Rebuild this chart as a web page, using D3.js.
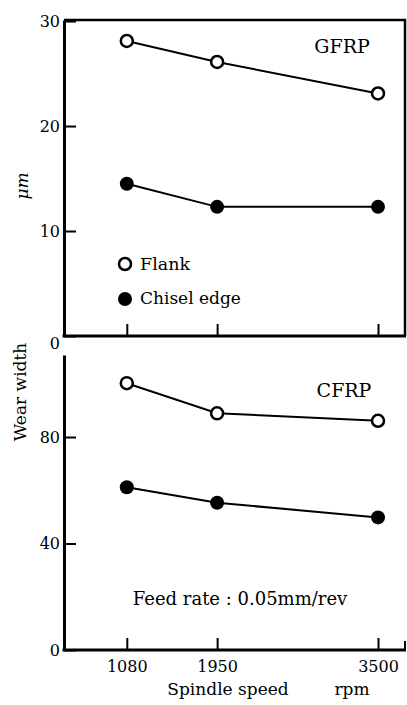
<!DOCTYPE html>
<html>
<head>
<meta charset="UTF-8">
<script src="https://d3js.org/d3.v7.min.js"></script>
<style>
  body { margin: 0; background: #fff; }
  text { font-family: "DejaVu Serif", serif; fill: #000; }
</style>
</head>
<body>
<div id="chart"></div>
<script>
// spindle speeds (rpm)
const speeds = [1080, 1950, 3500];
// wear width, um
const gfrpFlank = [28.1, 26.1, 23.1];
const gfrpChisel = [14.5, 12.3, 12.3];
const cfrpFlank = [100.2, 88.9, 86.1];
const cfrpChisel = [61.1, 55.3, 49.8];
const topTicks = [0, 10, 20, 30];
const botTicks = [0, 40, 80];

const W = 407, H = 705;
const svg = d3.select("#chart").append("svg")
  .attr("width", W).attr("height", H);

const x = d3.scaleLinear().domain([475, 3760]).range([64, 405]);
const yTop = d3.scaleLinear().domain([0, 30.1]).range([336, 20]);
const yBot = d3.scaleLinear().domain([0, 110.8]).range([650, 355]);

function panel(y, ticks, flank, chisel, showX) {
  const g = svg.append("g");
  // y axis, ticks point inward
  const ya = g.append("g").attr("transform", "translate(64,0)")
    .call(d3.axisLeft(y).tickValues(ticks).tickSizeInner(-12).tickSizeOuter(0).tickPadding(4).tickFormat(d3.format("d")));
  ya.select(".domain").attr("stroke-width", 3);
  ya.selectAll(".tick line").attr("stroke-width", 2);
  ya.selectAll("text").style("font-size", "16px").style("font-family", "DejaVu Serif");

  const xa = g.append("g").attr("transform", "translate(0," + y(0) + ")")
    .call(d3.axisBottom(x).tickValues(speeds).tickSizeInner(-12).tickSizeOuter(0).tickPadding(11).tickFormat(showX ? d3.format("d") : () => ""));
  xa.select(".domain").attr("stroke-width", 3).attr("d", "M62.5,0H406");
  xa.selectAll(".tick line").attr("stroke-width", 2);
  xa.selectAll("text").style("font-size", "16px").style("font-family", "DejaVu Serif");

  const line = d3.line().x((d, i) => x(speeds[i])).y(d => y(d));
  [flank, chisel].forEach(s => {
    g.append("path").datum(s).attr("d", line)
      .attr("fill", "none").attr("stroke", "#000").attr("stroke-width", 2);
  });
  g.selectAll(".fl").data(flank).enter().append("circle")
    .attr("cx", (d, i) => x(speeds[i])).attr("cy", d => y(d)).attr("r", 6)
    .attr("fill", "#fff").attr("stroke", "#000").attr("stroke-width", 2.5);
  g.selectAll(".ch").data(chisel).enter().append("circle")
    .attr("cx", (d, i) => x(speeds[i])).attr("cy", d => y(d)).attr("r", 7)
    .attr("fill", "#000");
  return g;
}

const gTop = panel(yTop, topTicks, gfrpFlank, gfrpChisel, false);
const gBot = panel(yBot, botTicks, cfrpFlank, cfrpChisel, true);

// frame of upper panel
gTop.append("path").attr("d", "M64,20H405V336")
  .attr("fill", "none").attr("stroke", "#000").attr("stroke-width", 2.5);
gTop.select("g .tick text").attr("dy", "0.75em");
gBot.append("path").attr("d", "M405,641V650")
  .attr("fill", "none").attr("stroke", "#000").attr("stroke-width", 2);

// labels
gTop.append("text").attr("x", 342).attr("y", 53).attr("text-anchor", "middle")
  .style("font-size", "19px").text("GFRP");
gBot.append("text").attr("x", 344).attr("y", 397).attr("text-anchor", "middle")
  .style("font-size", "19px").text("CFRP");
gBot.append("text").attr("x", 240).attr("y", 605).attr("text-anchor", "middle")
  .style("font-size", "18px").text("Feed rate : 0.05mm/rev");

// legend
gTop.append("circle").attr("cx", 125).attr("cy", 264).attr("r", 6)
  .attr("fill", "#fff").attr("stroke", "#000").attr("stroke-width", 2.5);
gTop.append("text").attr("x", 140).attr("y", 270).style("font-size", "17.5px").text("Flank");
gTop.append("circle").attr("cx", 125).attr("cy", 299).attr("r", 7).attr("fill", "#000");
gTop.append("text").attr("x", 140).attr("y", 304).style("font-size", "17px").text("Chisel edge");

// axis titles
svg.append("text").attr("transform", "translate(28,186) rotate(-90)")
  .attr("text-anchor", "middle").style("font-size", "17px").style("font-style", "italic").text("μm");
svg.append("text").attr("transform", "translate(26,392) rotate(-90)")
  .attr("text-anchor", "middle").style("font-size", "17px").text("Wear width");
svg.append("text").attr("x", 228).attr("y", 695).attr("text-anchor", "middle")
  .style("font-size", "17px").text("Spindle speed");
svg.append("text").attr("x", 352).attr("y", 695).attr("text-anchor", "middle")
  .style("font-size", "17px").text("rpm");
</script>
</body>
</html>
